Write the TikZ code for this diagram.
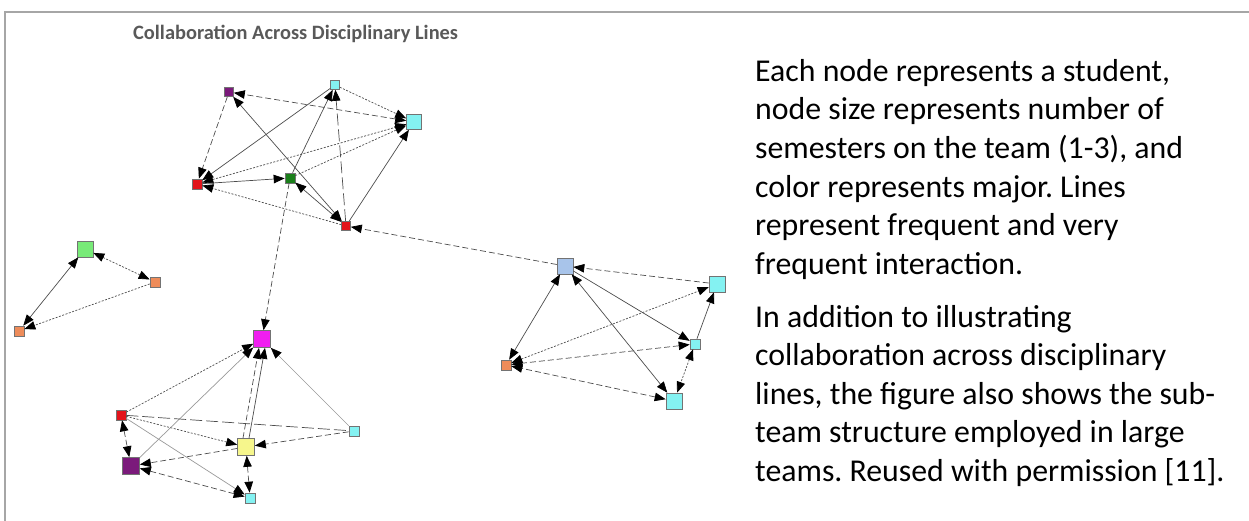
\documentclass[tikz,border=0pt]{standalone}
\usepackage{fontspec}
\setmainfont{Carlito}
\usetikzlibrary{arrows.meta}
\frenchspacing

\definecolor{framegray}{HTML}{A6A6A6}
\definecolor{titlegray}{HTML}{595959}
\definecolor{cRed}{HTML}{E3141B}
\definecolor{cGreen}{HTML}{1A7F1A}
\definecolor{cPurple}{HTML}{7B1A7B}
\definecolor{cCyan}{HTML}{84F2F2}
\definecolor{cLime}{HTML}{78EA78}
\definecolor{cOrange}{HTML}{EE8C5A}
\definecolor{cBlue}{HTML}{A8C4EA}
\definecolor{cMagenta}{HTML}{F01EF0}
\definecolor{cYellow}{HTML}{F6F68C}

\tikzset{
  stu/.style={draw=black!55, line width=0.6pt, rectangle, inner sep=0pt, minimum size=#1},
  stu/.default=10pt,
  tip/.tip={Triangle[length=11pt,width=8.5pt,color=black]},
  lnk/.style={draw=black!70, line width=0.7pt, -tip},
  lnkb/.style={lnk, tip-tip},
  dsh/.style={dash pattern=on 6pt off 3pt},
  ldsh/.style={dash pattern=on 12pt off 4pt},
  dtt/.style={dash pattern=on 2pt off 1.5pt},
  faint/.style={draw=black!40}
}

\begin{document}
\begin{tikzpicture}[x=1pt,y=-1pt]
  \useasboundingbox (0,0) rectangle (1249,521);
  \draw[framegray, line width=2pt] (5,521) -- (5,12) -- (1249,12);

  % title and caption
  \node[anchor=base west, inner sep=0, text=titlegray, font=\bfseries\fontsize{20.4}{24}\selectfont] (ttl) at (133,40) {Collaboration Across Disciplinary Lines};
  \node[anchor=base west, inner sep=0, align=left, font=\fontsize{31.8}{38.5}\selectfont] (txta) at (755,274)
    {Each node represents a student,\\ node size represents number of\\ semesters on the team (1-3), and\\ color represents major. Lines\\ represent frequent and very\\ frequent interaction.};
  \node[anchor=base west, inner sep=0, align=left, font=\fontsize{31.8}{38.5}\selectfont] (txtb) at (755,481)
    {In addition to illustrating\\ collaboration across disciplinary\\ lines, the figure also shows the sub-\\ team structure employed in large\\ teams. Reused with permission [11].};

  % top team
  \node[stu=9pt, fill=cPurple] (pu1) at (229,92) {};
  \node[stu=9pt, fill=cCyan] (cy1) at (335,85) {};
  \node[stu=15pt, fill=cCyan] (cy2) at (414,122) {};
  \node[stu, fill=cRed] (rd1) at (197,184) {};
  \node[stu, fill=cGreen] (gn1) at (290,178) {};
  \node[stu=9pt, fill=cRed] (rd2) at (346,226) {};

  % left team
  \node[stu=16pt, fill=cLime] (lg1) at (85,249) {};
  \node[stu, fill=cOrange] (or1) at (155,282) {};
  \node[stu, fill=cOrange] (or2) at (19,331) {};

  % right team
  \node[stu=16pt, fill=cBlue] (bl1) at (565,266) {};
  \node[stu=16pt, fill=cCyan] (cy3) at (717,284) {};
  \node[stu, fill=cCyan] (cy4) at (695,344) {};
  \node[stu, fill=cOrange] (or3) at (506,365) {};
  \node[stu=16pt, fill=cCyan] (cy5) at (674,401) {};

  % bottom team
  \node[stu=17pt, fill=cMagenta] (mg1) at (262,339) {};
  \node[stu, fill=cRed] (rd3) at (121,415) {};
  \node[stu, fill=cCyan] (cy6) at (354,431) {};
  \node[stu=17pt, fill=cYellow] (ye1) at (246,447) {};
  \node[stu=17pt, fill=cPurple] (pp2) at (131,466) {};
  \node[stu, fill=cCyan] (cy7) at (250,498) {};

  % links, top
  \draw[lnkb, dsh] (cy2) -- (pu1);
  \draw[lnk, dsh] (pu1) -- (rd1);
  \draw[lnkb] (pu1) -- (rd2);
  \draw[lnk] (cy1) -- (rd1);
  \draw[lnk, dtt] (cy1) -- (cy2);
  \draw[lnk] (gn1) -- (cy1);
  \draw[lnk, ldsh] (rd2) -- (cy1);
  \draw[lnkb, dtt] (rd1) -- (cy2);
  \draw[lnk, dtt] (gn1) -- (cy2);
  \draw[lnk] (rd1) -- (gn1);
  \draw[lnk, dtt] (rd2) -- (rd1);
  \draw[lnkb] (gn1) -- (rd2);
  \draw[lnk] (rd2) -- (cy2);
  \draw[lnk, dsh] (gn1) -- (mg1);
  \draw[lnk, dsh] (bl1) -- (rd2);

  % links, left
  \draw[lnkb, dtt] (lg1) -- (or1);
  \draw[lnkb] (lg1) -- (or2);
  \draw[lnk, dtt] (or1) -- (or2);

  % links, right
  \draw[lnkb] (bl1) -- (or3);
  \draw[lnk, dsh] (cy3) -- (bl1);
  \draw[lnk] (bl1) -- (cy4);
  \draw[lnkb] (bl1) -- (cy5);
  \draw[lnkb, dtt] (or3) -- (cy3);
  \draw[lnkb, dsh] (cy4) -- (or3);
  \draw[lnkb, dsh] (cy5) -- (or3);
  \draw[lnk] (cy4) -- (cy3);
  \draw[lnkb, dtt] (cy4) -- (cy5);

  % links, bottom
  \draw[lnk, dtt] (rd3) -- (mg1);
  \draw[lnk, faint] (pp2) -- (mg1);
  \draw[lnk, dsh] ([xshift=-3pt]ye1.north) -- ([xshift=-3pt]mg1.south);
  \draw[lnk] ([xshift=3pt]ye1.north) -- ([xshift=3pt]mg1.south);
  \draw[lnk, faint] (cy6) -- (mg1);
  \draw[ldsh, draw=black!70, line width=0.7pt] (rd3) -- (cy6);
  \draw[lnk, dtt] (rd3) -- (ye1);
  \draw[lnk, dsh] (cy6) -- (ye1);
  \draw[lnk, dsh] (ye1) -- (pp2);
  \draw[lnkb, dsh] (rd3) -- (pp2);
  \draw[lnk, faint] (rd3) -- (cy7);
  \draw[lnkb, dsh] (pp2) -- (cy7);
  \draw[lnkb, dsh] (ye1) -- (cy7);
\end{tikzpicture}
\end{document}
